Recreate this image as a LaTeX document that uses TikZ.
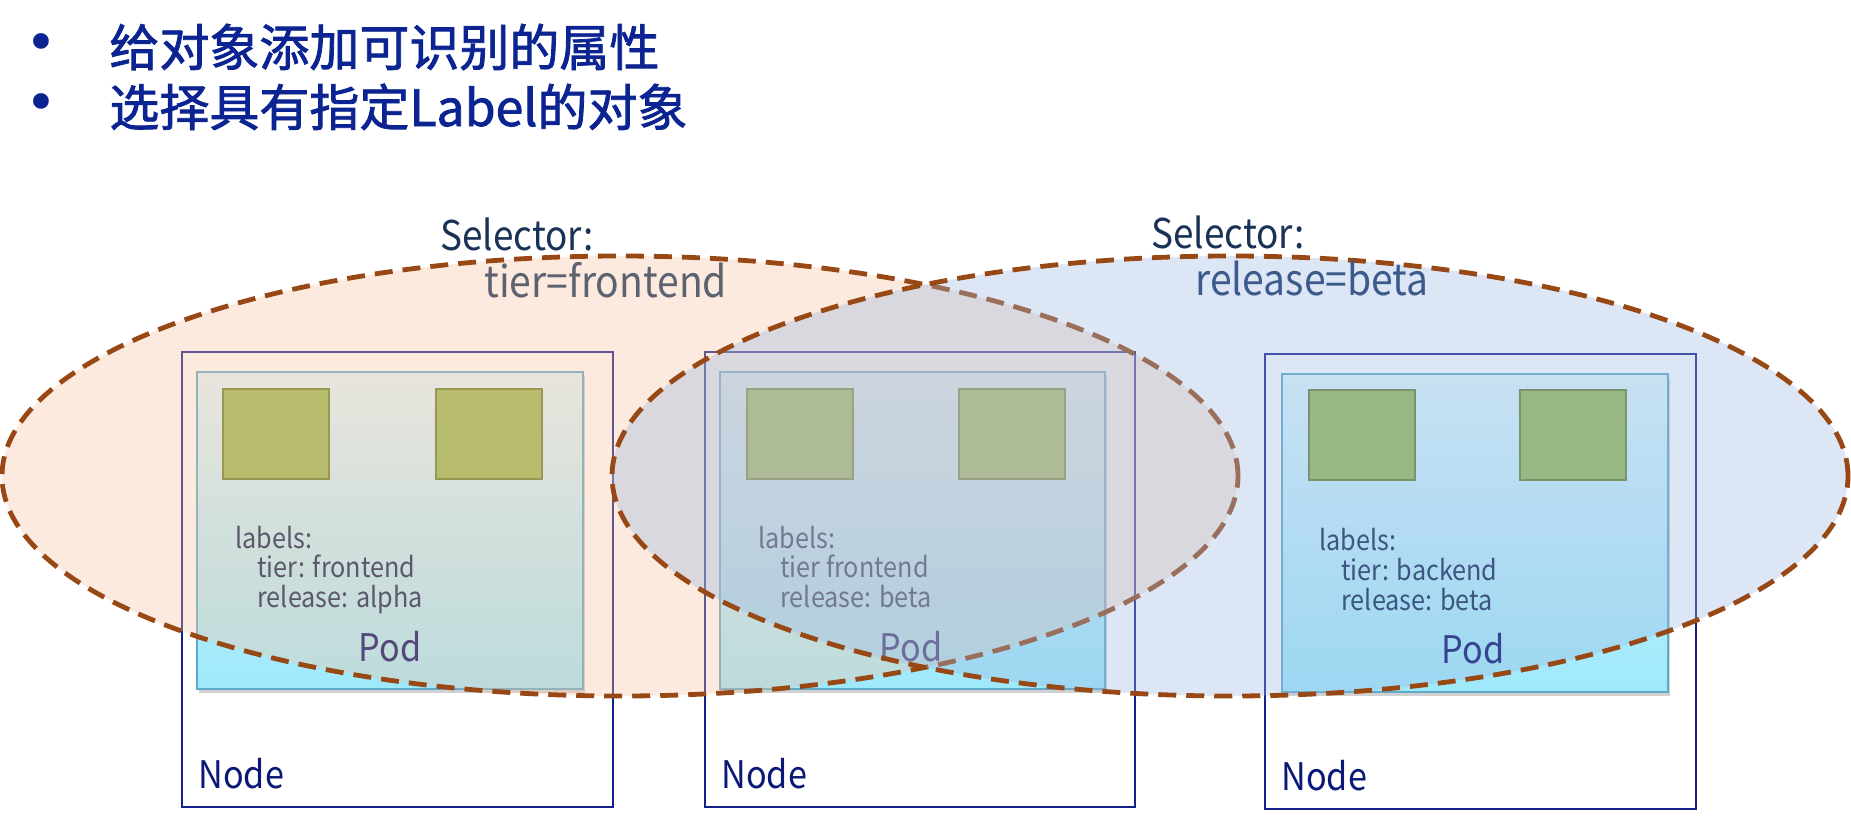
\documentclass[tikz,border=0pt]{standalone}
\usepackage{fontspec}
\setmainfont{Noto Sans CJK SC}[FakeStretch=0.9]
\newfontfamily\titlefont{Noto Sans CJK SC}[FakeBold=1.6]
\newfontfamily\bulletfont{DejaVu Sans}
\usetikzlibrary{shapes.geometric,shadows}
\definecolor{titlec}{RGB}{12,36,145}
\definecolor{selc}{RGB}{25,50,85}
\definecolor{tierc}{RGB}{92,98,112}
\definecolor{relc}{RGB}{60,90,140}
\definecolor{nodeborder}{RGB}{20,30,140}
\definecolor{nodetext}{RGB}{10,25,120}
\definecolor{podborder}{RGB}{95,170,200}
\definecolor{podtop}{RGB}{225,247,253}
\definecolor{podbot}{RGB}{158,233,252}
\definecolor{sqfill}{RGB}{152,186,83}
\definecolor{sqborder}{RGB}{105,128,45}
\definecolor{labtext}{RGB}{10,32,80}
\definecolor{podtext}{RGB}{0,5,100}
\definecolor{selline}{RGB}{152,72,20}
\definecolor{ellA}{RGB}{246,195,161}
\definecolor{ellB}{RGB}{155,184,226}
\begin{document}
\begin{tikzpicture}[x=0.5pt,y=-0.5pt,
  nodebox/.style={draw=nodeborder, line width=1pt, inner sep=0pt, anchor=north west, minimum height=227.5pt},
  podbox/.style={draw=podborder, line width=1pt, inner sep=0pt, anchor=north west, top color=podtop, bottom color=podbot, minimum height=158.5pt,
     drop shadow={shadow xshift=1pt, shadow yshift=-2pt, opacity=0.3, fill=black!60}},
  ctr/.style={draw=sqborder, fill=sqfill, line width=1.2pt, inner sep=0pt, anchor=north west, minimum width=53pt, minimum height=45pt},
  labtxt/.style={anchor=base west, inner sep=0pt, text=labtext, font=\fontsize{14pt}{16pt}\selectfont},
  podlbl/.style={anchor=base, inner sep=0pt, text=podtext, font=\fontsize{19pt}{22pt}\selectfont},
  nodelbl/.style={anchor=base west, inner sep=0pt, text=nodetext, font=\fontsize{19pt}{22pt}\selectfont},
  titletxt/.style={anchor=base west, inner sep=0pt, text=titlec, font=\fontsize{25pt}{30pt}\titlefont},
  bul/.style={anchor=base, inner sep=0pt, text=titlec, font=\fontsize{27pt}{30pt}\bulletfont},
  seltitle/.style={anchor=base west, inner sep=0pt, text=selc, font=\fontsize{20.5pt}{24pt}\selectfont},
  selval/.style={anchor=base west, inner sep=0pt, font=\fontsize{21.7pt}{24pt}\selectfont},
  selell/.style={ellipse, inner sep=0pt, draw=selline, line width=2.4pt, dash pattern=on 9pt off 5pt, fill opacity=0.35, minimum width=618pt, minimum height=220pt}
]
\useasboundingbox (0,0) rectangle (1851,819);

% title bullets
\node[bul] (b1) at (41,61) {•};
\node[titletxt] (t1) at (109,66) {给对象添加可识别的属性};
\node[bul] (b2) at (41,121) {•};
\node[titletxt] (t2) at (109,126) {选择具有指定Label的对象};

% Node boxes
\node[nodebox, minimum width=215.5pt] (n1) at (181,351) {};
\node[nodebox, minimum width=215pt] (n2) at (704,351) {};
\node[nodebox, minimum width=215.5pt] (n3) at (1264,353) {};
\node[nodelbl] (n1l) at (198,788) {Node};
\node[nodelbl] (n2l) at (721,788) {Node};
\node[nodelbl] (n3l) at (1281,790) {Node};

% Pods
\node[podbox, minimum width=193pt] (p1) at (196,371) {};
\node[podbox, minimum width=192.5pt] (p2) at (719,371) {};
\node[podbox, minimum width=193pt, minimum height=159pt] (p3) at (1281,373) {};

% containers
\node[ctr] (c11) at (222,388) {};
\node[ctr] (c12) at (435,388) {};
\node[ctr] (c21) at (746,388) {};
\node[ctr] (c22) at (958,388) {};
\node[ctr] (c31) at (1308,389) {};
\node[ctr] (c32) at (1519,389) {};

% pod labels
\node[labtxt] (l1a) at (235,548) {labels:};
\node[labtxt] (l1b) at (257,577) {tier: frontend};
\node[labtxt] (l1c) at (257,607) {release: alpha};
\node[podlbl] (p1l) at (390,661) {Pod};

\node[labtxt] (l2a) at (758,548) {labels:};
\node[labtxt] (l2b) at (780,577) {tier frontend};
\node[labtxt] (l2c) at (780,607) {release: beta};
\node[podlbl] (p2l) at (911,661) {Pod};

\node[labtxt] (l3a) at (1319,550) {labels:};
\node[labtxt] (l3b) at (1341,580) {tier: backend};
\node[labtxt] (l3c) at (1341,610) {release: beta};
\node[podlbl] (p3l) at (1473,663) {Pod};

% selectors
\node[selell, fill=ellA] (s1) at (620,476) {};
\node[selell, fill=ellB] (s2) at (1230,476) {};

\node[seltitle] (s1t) at (440,250) {Selector:};
\node[selval, text=tierc] (s1v) at (484,297) {tier=frontend};
\node[seltitle] (s2t) at (1151,248) {Selector:};
\node[selval, text=relc] (s2v) at (1195,295) {release=beta};
\end{tikzpicture}
\end{document}
